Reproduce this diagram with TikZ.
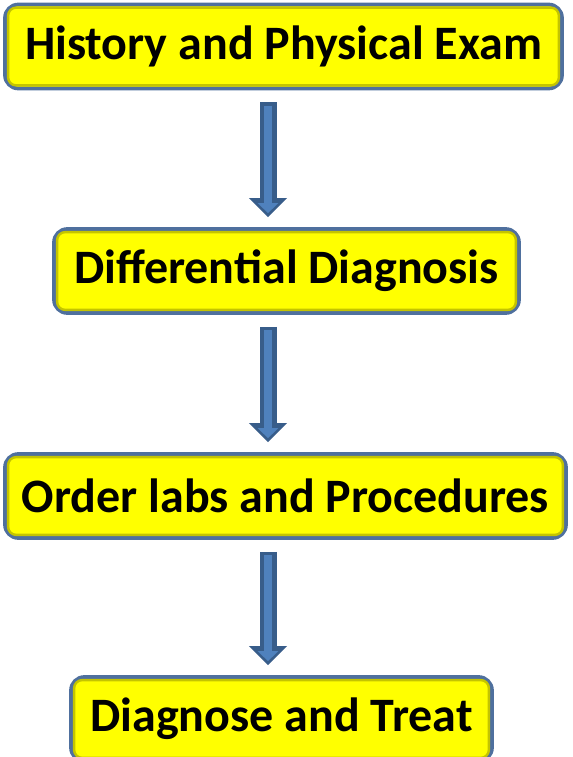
\documentclass[tikz,border=0pt]{standalone}
\usepackage{fontspec}
\setmainfont{Carlito}
\usepackage{tikz}
\usetikzlibrary{calc, positioning}
\usetikzlibrary{arrows.meta}

\definecolor{boxedge}{RGB}{79,112,158}
\definecolor{boxfill}{RGB}{255,255,0}
\definecolor{boxbevel}{RGB}{196,196,0}
\definecolor{arrdark}{RGB}{56,93,138}
\definecolor{arrlight}{RGB}{79,129,189}

\tikzset{
  stagebox/.style={draw=boxedge, fill=boxfill, line width=2.8pt, rounded corners=10pt,
    minimum height=63pt, inner sep=0pt, font=\fontsize{36}{40}\selectfont\bfseries},
  bevel/.style={draw=boxbevel, line width=1.8pt, rounded corners=6pt},
  arrouter/.style={draw=arrdark, line width=12.75pt, shorten <=9pt, shorten >=7.5pt,
    -{Triangle[width=27.75pt,length=14.25pt]}},
  arrinner/.style={draw=arrlight, line width=5.5pt, shorten <=11.5pt, shorten >=10.5pt,
    -{Triangle[width=15pt,length=7.5pt]}}
}

\begin{document}
\begin{tikzpicture}[x=0.75pt,y=0.75pt,yscale=-1,xscale=1]
		\useasboundingbox (0,0) rectangle (573,757);

		% boxes
		\node [stagebox, minimum width=417.75pt] (hist) at (283.5,46.5) {History and Physical Exam};
		\node [stagebox, minimum width=348.75pt] (ddx) at (286.5,271) {Differential Diagnosis};
		\node [stagebox, minimum width=420.75pt] (labs) at (285.5,496) {Order labs and Procedures};
		\node [stagebox, minimum width=315.75pt] (treat) at (281.5,719) {Diagnose and Treat};

		% inner edge of each box
		\foreach \n in {hist, ddx, labs, treat}{
			\draw [bevel] ($(\n.north west)+(5,5)$) rectangle ($(\n.south east)+(-5,-5)$);
		}

		% arrows
		\coordinate (axis) at (268,0);
		\foreach \from/\to in {hist/ddx, ddx/labs, labs/treat}{
			\draw [arrouter] (\from.south -| axis) -- (\to.north -| axis);
			\draw [arrinner] (\from.south -| axis) -- (\to.north -| axis);
		}

	\end{tikzpicture}
\end{document}
